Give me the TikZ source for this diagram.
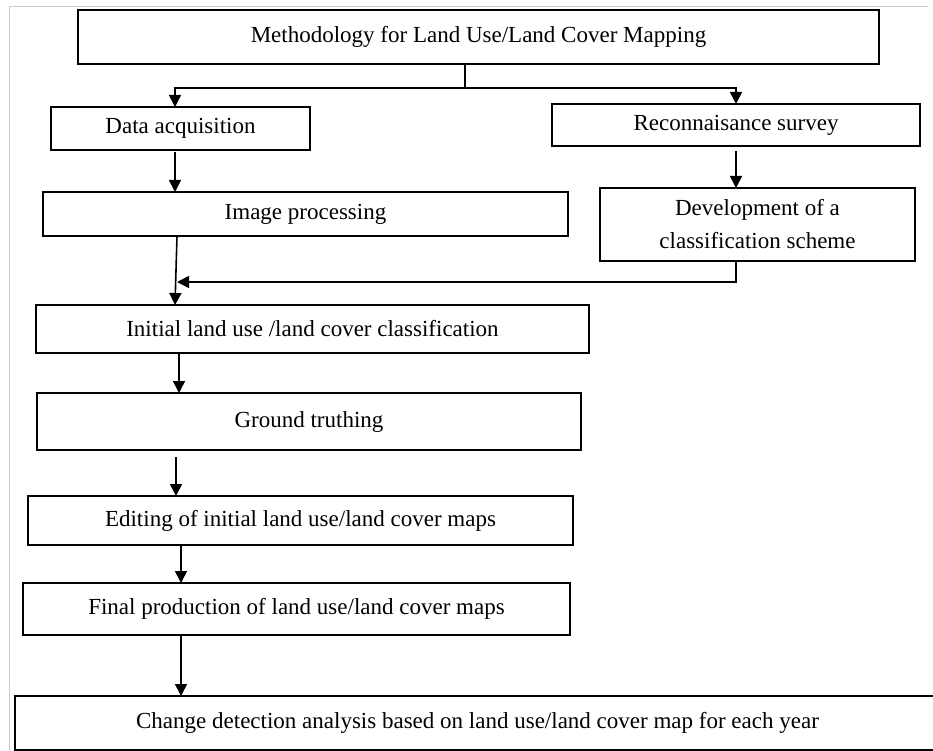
\documentclass[tikz,border=0pt]{standalone}
\usepackage{fontspec}
\setmainfont{Liberation Serif}
\usetikzlibrary{positioning, arrows.meta}

\begin{document}
\begin{tikzpicture}[x=1pt, y=1pt, line width=1.6pt, >={Triangle[length=12pt,width=12pt]}]
    \tikzstyle{block} = [rectangle,inner sep=0pt,outer sep=0pt,text centered,align=center,draw=black,fill=white,font=\fontsize{23}{33}\selectfont]
    \tikzstyle{frame} = [draw=black!20, line width=1pt]

    \useasboundingbox (0,0) rectangle (933,-751);
    \draw [frame] (9,-751) -- (9,-7) -- (928,-7);

    \node (title) [block, minimum width=801pt, minimum height=54pt, anchor=north west] at (78,-10) {Methodology for Land Use/Land Cover Mapping};

    \node (data) [block, minimum width=259pt, minimum height=43pt, below right=43pt and -27pt of title.south west] {Data acquisition};
    \node (recon) [block, minimum width=368pt, minimum height=42pt, below left=40pt and -41pt of title.south east] {Reconnaisance survey};

    \node (image) [block, minimum width=525pt, minimum height=44pt, below right=42pt and -8pt of data.south west] {Image processing};
    \node (dev) [block, minimum width=315pt, minimum height=73pt, below left=42pt and 5pt of recon.south east] {Development of a\\classification scheme};

    \node (initial) [block, minimum width=553pt, minimum height=48pt, below right=69pt and -7pt of image.south west] {Initial land use /land cover classification};
    \node (ground) [block, minimum width=544pt, minimum height=57pt, below right=40pt and 1pt of initial.south west] {Ground truthing};
    \node (editing) [block, minimum width=545pt, minimum height=49pt, below right=46pt and -9pt of ground.south west] {Editing of initial land use/land cover maps};
    \node (final) [block, minimum width=547pt, minimum height=52pt, below right=38pt and -5pt of editing.south west] {Final production of land use/land cover maps};
    \node (change) [block, minimum width=925pt, minimum height=54pt, below right=61pt and -8pt of final.south west] {Change detection analysis based on land use/land cover map for each year};

    \coordinate (split) at (465,-88);
    \coordinate (join) at (177,-282);

    \draw [line width=1.2pt] (title.south -| split) -- (split);
    \draw [->] (split) -| ([xshift=-5.5pt]data.north);
    \draw [->] (split) -| (recon.north);

    \draw [->] ([xshift=-5.5pt,yshift=-2pt]data.south) -- ([xshift=-130.5pt]image.north);
    \draw [->] ([yshift=-5pt]recon.south) -- (recon.south |- dev.north);

    \draw [->] ([xshift=-128.5pt]image.south) -- ([xshift=-137.5pt]initial.north);
    \draw [->] ([xshift=-21.5pt]dev.south) |- (join);

    \draw [->] ([xshift=-133.5pt]initial.south) -- ([xshift=-133.5pt]initial.south |- ground.north);
    \draw [->] ([xshift=-133pt,yshift=-7pt]ground.south) -- ([xshift=-133pt]ground.south |- editing.north);
    \draw [->] ([xshift=-119.5pt]editing.south) -- ([xshift=-119.5pt]editing.south |- final.north);
    \draw [->] ([xshift=-115.5pt]final.south) -- ([xshift=-115.5pt]final.south |- change.north);
\end{tikzpicture}
\end{document}
